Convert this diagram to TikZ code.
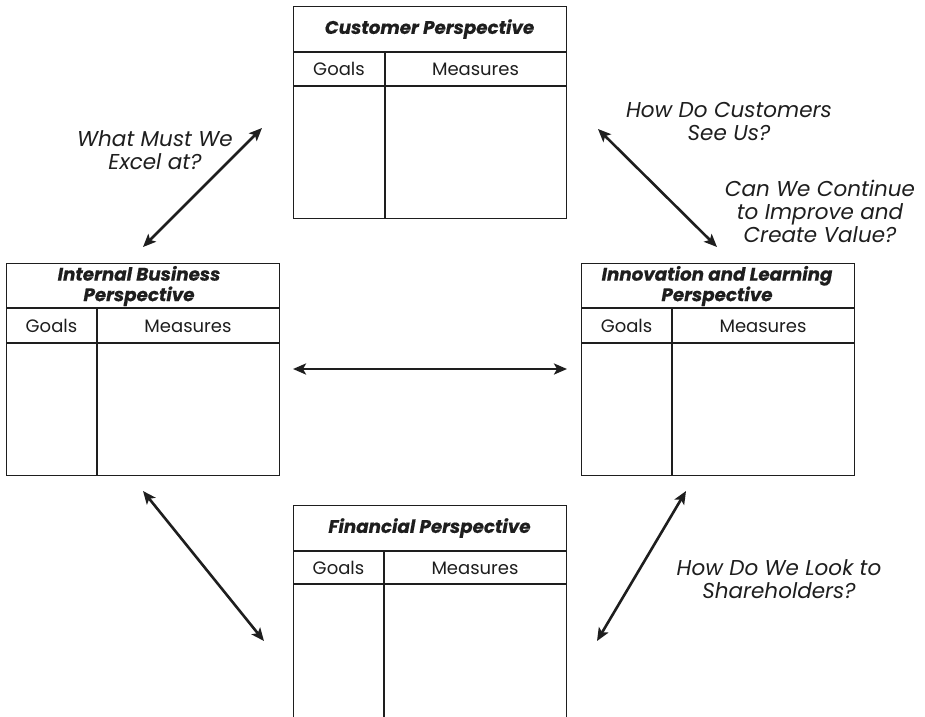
\documentclass[tikz,border=0pt]{standalone}
\usepackage{fontspec}
\setmainfont{Poppins}
\newfontfamily\ttlfont{Poppins}[FakeBold=0.5]
\usetikzlibrary{arrows.meta}
\definecolor{ink}{HTML}{1E1E1E}
\begin{document}
\begin{tikzpicture}[x=1pt,y=-1pt,
  pbox/.style={draw=ink, line width=1.4pt, rectangle, inner sep=0pt, anchor=north west, minimum width=273pt},
  rule/.style={draw=ink, line width=1.4pt},
  link/.style={draw=ink, line width=2.6pt, {Stealth[length=13pt,width=11pt,inset=3pt]}-{Stealth[length=13pt,width=11pt,inset=3pt]}},
  ttl/.style={font=\fontsize{18.3}{20.5}\ttlfont\bfseries\itshape, text=ink, align=center, inner sep=0pt},
  cell/.style={font=\fontsize{18}{21}\selectfont, text=ink, inner sep=0pt},
  lbl/.style={font=\fontsize{21.5}{23}\selectfont\itshape, text=ink, align=center, inner sep=0pt}]
\useasboundingbox[fill=white] (0,0) rectangle (925,716);

% Customer perspective (top)
\node[pbox, minimum height=212pt] (cust) at (293,6) {};
\draw[rule] (293,52) -- (566,52) (293,86) -- (566,86) (385,52) -- (385,218);
\node[ttl] (custT) at (429.5,29) {Customer Perspective};
\node[cell] (custG) at (339,69) {Goals};
\node[cell] (custM) at (475.5,69) {Measures};

% Internal business perspective (left)
\node[pbox, minimum height=212pt] (intb) at (6,263) {};
\draw[rule] (6,308) -- (279,308) (6,343) -- (279,343) (97,308) -- (97,475);
\node[ttl] (intbT) at (139,286) {Internal Business\\Perspective};
\node[cell] (intbG) at (51.5,326) {Goals};
\node[cell] (intbM) at (188,326) {Measures};

% Innovation and learning perspective (right)
\node[pbox, minimum height=212pt] (innov) at (581,263) {};
\draw[rule] (581,308) -- (854,308) (581,343) -- (854,343) (672,308) -- (672,475);
\node[ttl] (innovT) at (717,286) {Innovation and Learning\\Perspective};
\node[cell] (innovG) at (626.5,326) {Goals};
\node[cell] (innovM) at (763,326) {Measures};

% Financial perspective (bottom)
\node[pbox, minimum height=240pt] (fin) at (293,505) {};
\draw[rule] (293,551) -- (566,551) (293,584) -- (566,584) (384,551) -- (384,745);
\node[ttl] (finT) at (429.5,528) {Financial Perspective};
\node[cell] (finG) at (338.5,568) {Goals};
\node[cell] (finM) at (475,568) {Measures};

% arrow ends
\coordinate (ulA) at (262,128);
\coordinate (ulB) at (143,247);
\coordinate (urA) at (598,129);
\coordinate (urB) at (717,247);
\coordinate (mA) at (293,369);
\coordinate (mB) at (567,369);
\coordinate (llA) at (143,491);
\coordinate (llB) at (264,641);
\coordinate (lrA) at (686,491);
\coordinate (lrB) at (597,641);

\draw[link] (ulB) -- (ulA);
\draw[link] (urA) -- (urB);
\draw[link] (mA) -- (mB);
\draw[link] (llA) -- (llB);
\draw[link] (lrA) -- (lrB);

% labels
\node[lbl] (q1) at (155,150) {What Must We\\Excel at?};
\node[lbl] (q2) at (729,121) {How Do Customers\\See Us?};
\node[lbl] (q3) at (820,211) {Can We Continue\\to Improve and\\Create Value?};
\node[lbl] (q4) at (779,579) {How Do We Look to\\Shareholders?};
\end{tikzpicture}
\end{document}
